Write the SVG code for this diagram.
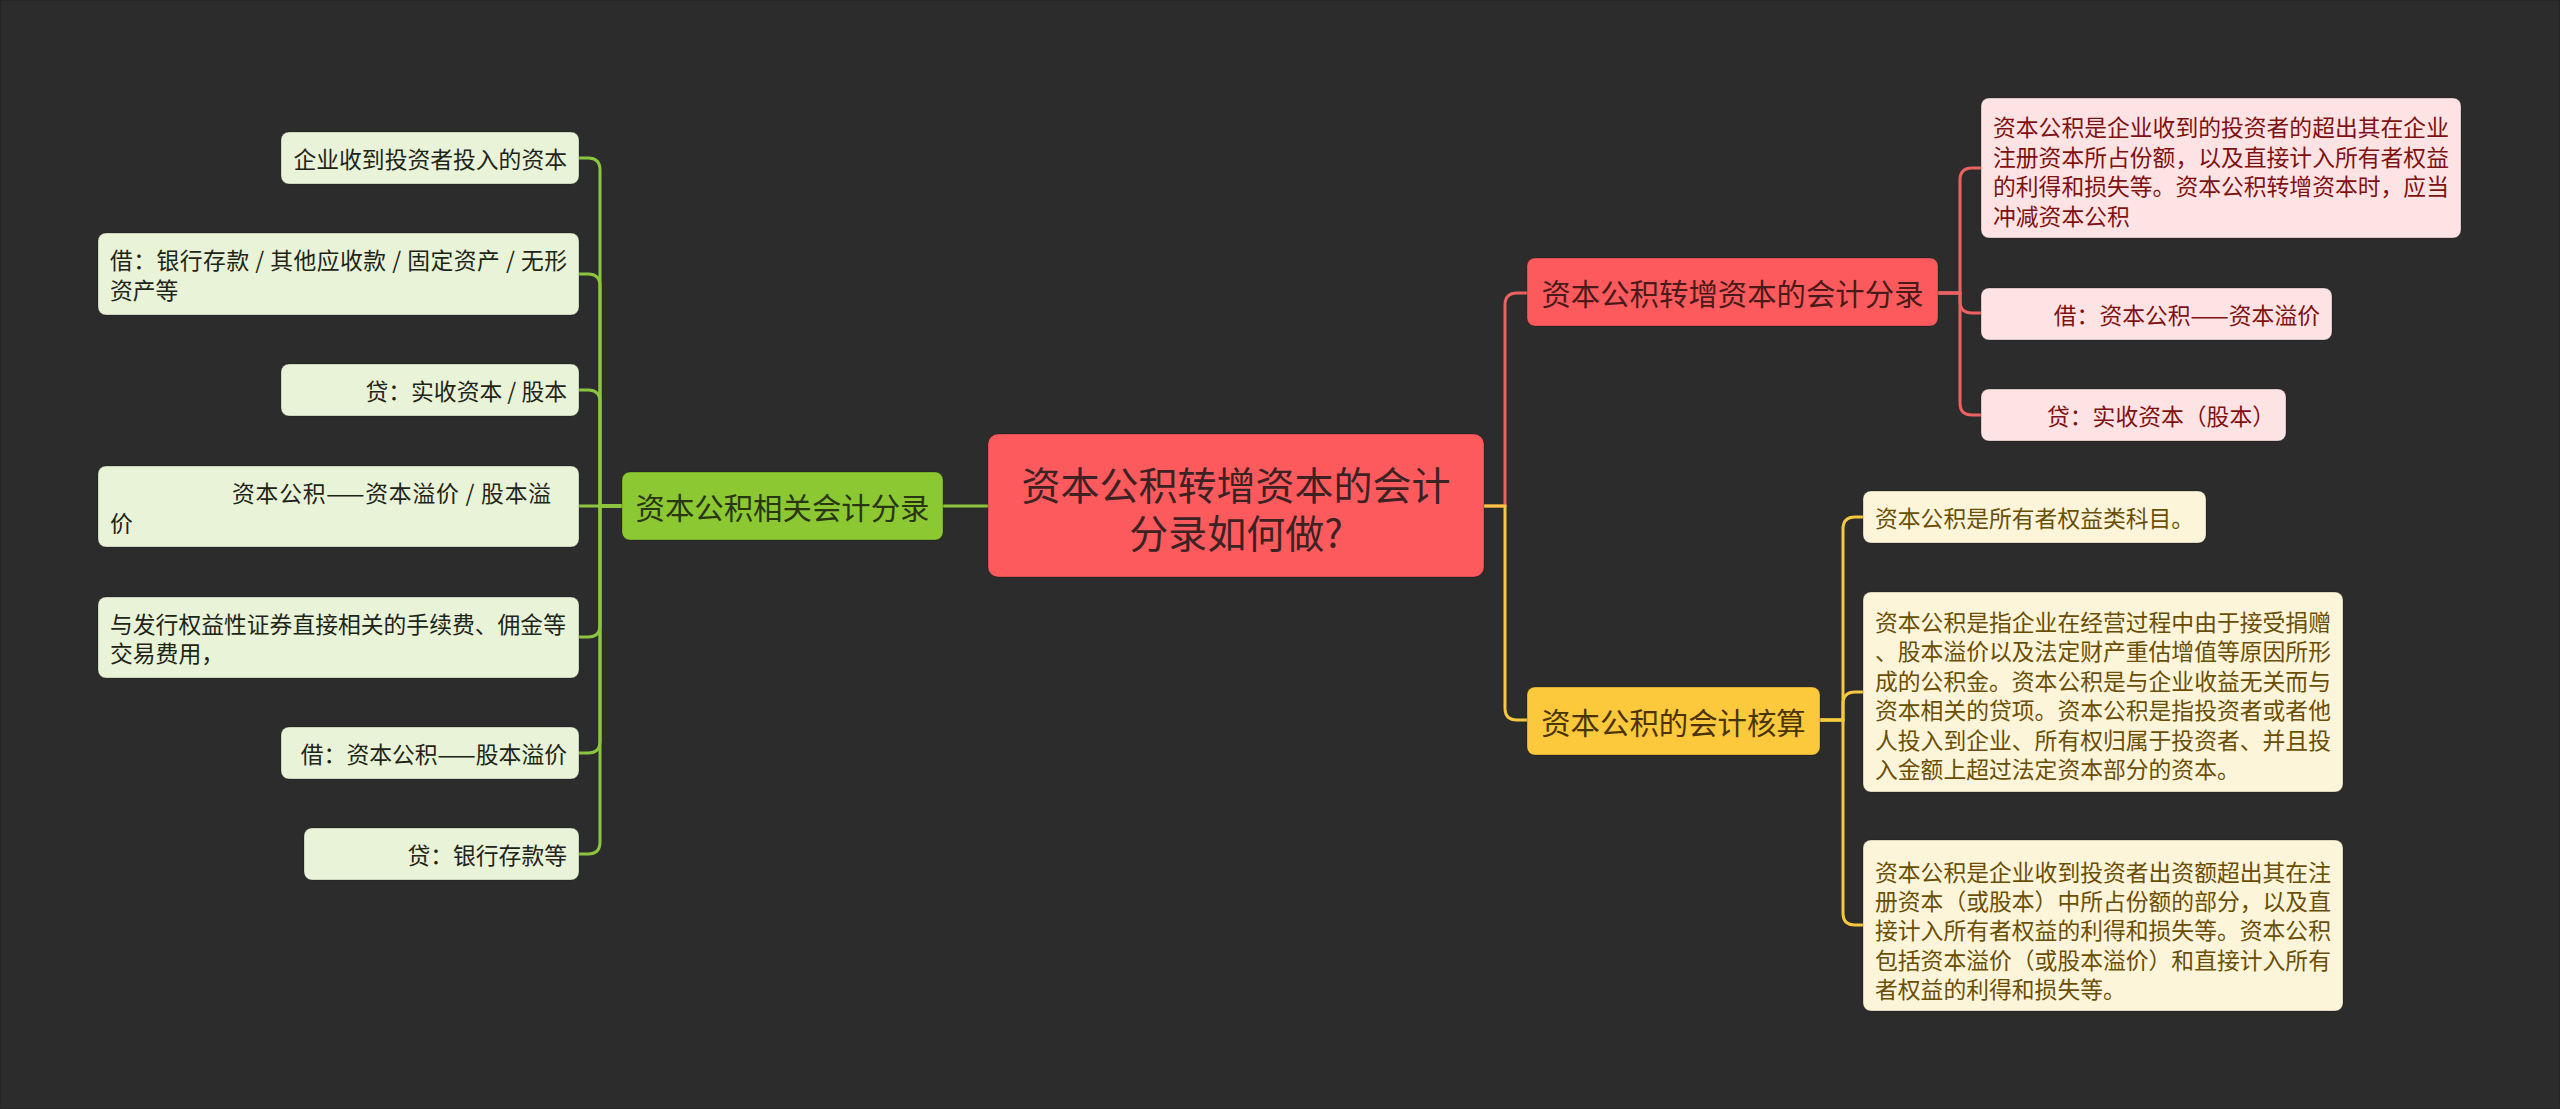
<svg xmlns="http://www.w3.org/2000/svg" width="2560" height="1109" viewBox="0 0 2560 1109">
<style>
text{font-family:"Noto Sans CJK SC","Noto Sans",sans-serif;dominant-baseline:central}
.leaf{font-size:22.8px}
.mid{font-size:29.4px}
.root{font-size:39px;fill:#3d2224;text-anchor:middle}
.gl rect{fill:#e9f3d8}.gl text{fill:#1e2418}
.pl rect{fill:#fde3e3}.pl text{fill:#7e1111}
.yl rect{fill:#fdf5d9}.yl text{fill:#6a4e05}
.conn path{fill:none;stroke-width:3}
.cg{stroke:#8cc63f}.cr{stroke:#ec6262}.cy{stroke:#f6c840}
rect{stroke:rgba(0,0,0,0.25);stroke-width:1}
</style>
<rect x="0" y="0" width="2560" height="1109" fill="#2c2c2c" stroke="none"/>
<g class="conn" id="connectors">
<path class="cg" d="M988 506 L943 506"/>
<path class="cr" d="M1484 506 L1505 506 L1505 305 Q1505 293 1517 293 L1527 293"/>
<path class="cy" d="M1484 506 L1505 506 L1505 708 Q1505 720 1517 720 L1527 720"/>
<path class="cg" d="M622 506 L600 506 L600 170 Q600 158 588 158 L579 158"/>
<path class="cg" d="M622 506 L600 506 L600 286 Q600 274 588 274 L579 274"/>
<path class="cg" d="M622 506 L600 506 L600 402 Q600 390 588 390 L579 390"/>
<path class="cg" d="M622 506 L579 506"/>
<path class="cg" d="M622 506 L600 506 L600 625 Q600 637 588 637 L579 637"/>
<path class="cg" d="M622 506 L600 506 L600 741 Q600 753 588 753 L579 753"/>
<path class="cg" d="M622 506 L600 506 L600 842 Q600 854 588 854 L579 854"/>
<path class="cr" d="M1938 293 L1960 293 L1960 180 Q1960 168 1972 168 L1981 168"/>
<path class="cr" d="M1938 293 L1960 293 L1960 301 Q1960 313 1972 313 L1981 313"/>
<path class="cr" d="M1938 293 L1960 293 L1960 403 Q1960 415 1972 415 L1981 415"/>
<path class="cy" d="M1820 720 L1843 720 L1843 529 Q1843 517 1855 517 L1863 517"/>
<path class="cy" d="M1820 720 L1843 720 L1843 704 Q1843 692 1855 692 L1863 692"/>
<path class="cy" d="M1820 720 L1843 720 L1843 913 Q1843 925 1855 925 L1863 925"/>
</g>
<g id="root">
<rect x="988" y="434" width="496" height="143" rx="10" fill="#fd5a5e"/>
<text class="root"><tspan x="1236" y="483">资本公积转增资本的会计</tspan><tspan x="1236" y="531">分录如何做?</tspan></text>
</g>
<g id="n-green">
<rect x="622" y="472" width="321" height="68" rx="8" fill="#8cc832"/>
<text class="mid" x="782.5" y="506" text-anchor="middle" fill="#2a3512">资本公积相关会计分录</text>
</g>
<g id="n-red">
<rect x="1527" y="258" width="411" height="68" rx="8" fill="#fd5a5e"/>
<text class="mid" x="1732.5" y="292" text-anchor="middle" fill="#4a1a1a">资本公积转增资本的会计分录</text>
</g>
<g id="n-yellow">
<rect x="1527" y="687" width="293" height="68" rx="8" fill="#fcc83c"/>
<text class="mid" x="1673.5" y="721" text-anchor="middle" fill="#4a3406">资本公积的会计核算</text>
</g>
<g id="g1" class="gl">
<rect x="281" y="132" width="298" height="52" rx="8"/>
<text class="leaf" x="567" y="158" text-anchor="end">企业收到投资者投入的资本</text>
</g>
<g id="g2" class="gl">
<rect x="98" y="233" width="481" height="82" rx="8"/>
<text class="leaf"><tspan x="110" y="259" textLength="457" lengthAdjust="spacing">借：银行存款 / 其他应收款 / 固定资产 / 无形</tspan><tspan x="110" y="288.5">资产等</tspan></text>
</g>
<g id="g3" class="gl">
<rect x="281" y="364" width="298" height="52" rx="8"/>
<text class="leaf" x="567" y="390" text-anchor="end">贷：实收资本 / 股本</text>
</g>
<g id="g4" class="gl">
<rect x="98" y="466" width="481" height="81" rx="8"/>
<text class="leaf"><tspan x="232" y="492" textLength="319" lengthAdjust="spacing">资本公积——资本溢价 / 股本溢</tspan><tspan x="110" y="521.5">价</tspan></text>
</g>
<g id="g5" class="gl">
<rect x="98" y="597" width="481" height="81" rx="8"/>
<text class="leaf"><tspan x="110" y="623">与发行权益性证券直接相关的手续费、佣金等</tspan><tspan x="110" y="652">交易费用，</tspan></text>
</g>
<g id="g6" class="gl">
<rect x="281" y="727" width="298" height="52" rx="8"/>
<text class="leaf" x="567" y="753" text-anchor="end">借：资本公积——股本溢价</text>
</g>
<g id="g7" class="gl">
<rect x="304" y="828" width="275" height="52" rx="8"/>
<text class="leaf" x="567" y="854" text-anchor="end">贷：银行存款等</text>
</g>
<g id="p1" class="pl">
<rect x="1981" y="98" width="480" height="140" rx="8"/>
<text class="leaf"><tspan x="1993" y="126">资本公积是企业收到的投资者的超出其在企业</tspan><tspan x="1993" y="155.5">注册资本所占份额，以及直接计入所有者权益</tspan><tspan x="1993" y="185">的利得和损失等。资本公积转增资本时，应当</tspan><tspan x="1993" y="214.5">冲减资本公积</tspan></text>
</g>
<g id="p2" class="pl">
<rect x="1981" y="288" width="351" height="52" rx="8"/>
<text class="leaf" x="2320" y="314" text-anchor="end">借：资本公积——资本溢价</text>
</g>
<g id="p3" class="pl">
<rect x="1981" y="389" width="305" height="52" rx="8"/>
<text class="leaf" x="2047" y="415">贷：实收资本（股本）</text>
</g>
<g id="y1" class="yl">
<rect x="1863" y="491" width="343" height="52" rx="8"/>
<text class="leaf" x="1875" y="517">资本公积是所有者权益类科目。</text>
</g>
<g id="y2" class="yl">
<rect x="1863" y="592" width="480" height="200" rx="8"/>
<text class="leaf"><tspan x="1875" y="621">资本公积是指企业在经营过程中由于接受捐赠</tspan><tspan x="1875" y="650.4">、股本溢价以及法定财产重估增值等原因所形</tspan><tspan x="1875" y="679.8">成的公积金。资本公积是与企业收益无关而与</tspan><tspan x="1875" y="709.2">资本相关的贷项。资本公积是指投资者或者他</tspan><tspan x="1875" y="738.6">人投入到企业、所有权归属于投资者、并且投</tspan><tspan x="1875" y="768">入金额上超过法定资本部分的资本。</tspan></text>
</g>
<g id="y3" class="yl">
<rect x="1863" y="840" width="480" height="171" rx="8"/>
<text class="leaf"><tspan x="1875" y="870.5">资本公积是企业收到投资者出资额超出其在注</tspan><tspan x="1875" y="899.9">册资本（或股本）中所占份额的部分，以及直</tspan><tspan x="1875" y="929.3">接计入所有者权益的利得和损失等。资本公积</tspan><tspan x="1875" y="958.7">包括资本溢价（或股本溢价）和直接计入所有</tspan><tspan x="1875" y="988.1">者权益的利得和损失等。</tspan></text>
</g>
</svg>
